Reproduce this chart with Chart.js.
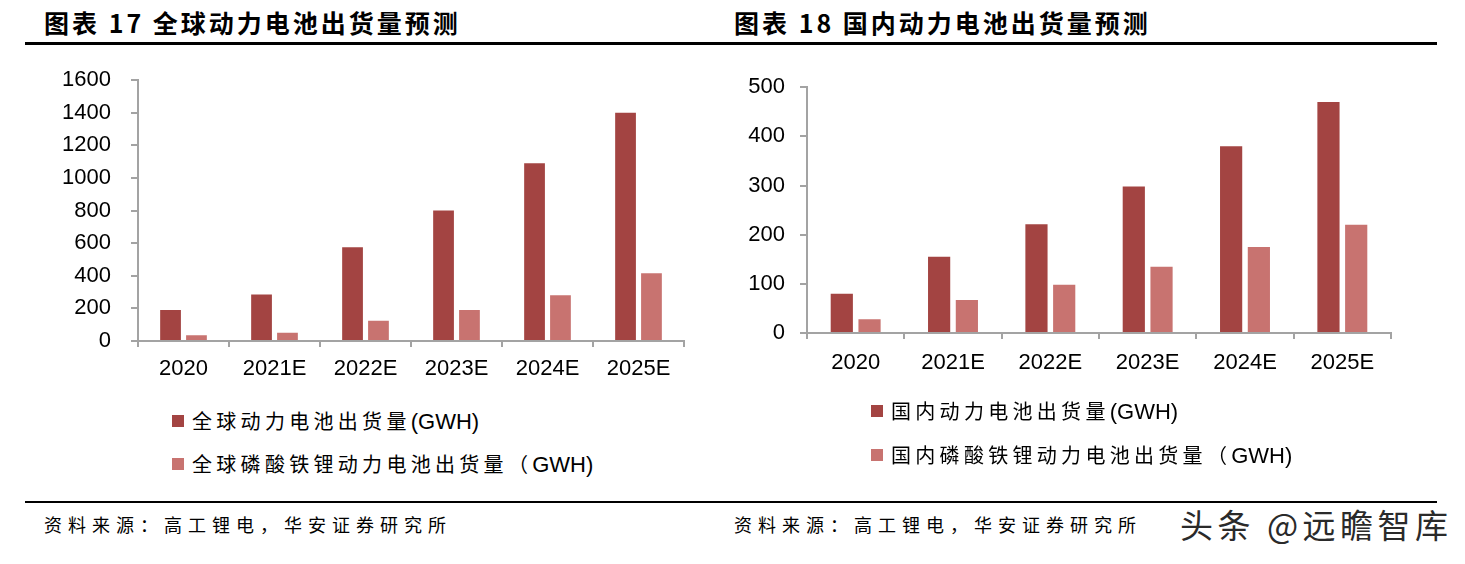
<!DOCTYPE html>
<html>
<head>
<meta charset="utf-8">
<script src="https://cdn.jsdelivr.net/npm/chart.js@4.4.1/dist/chart.umd.min.js"></script>
<style>
  html, body { margin:0; padding:0; background:#fff; }
  body { width:1465px; height:564px; position:relative; overflow:hidden; font-family:"Liberation Sans", Arial, "Noto Sans CJK SC", sans-serif; }
  .title { position:absolute; font-family:"Noto Sans CJK SC", sans-serif; font-weight:700; font-size:25px; letter-spacing:3px; color:#000; white-space:pre; line-height:30px; }
  .rule { position:absolute; background:#000; }
  .src { position:absolute; font-family:"Noto Sans CJK SC", sans-serif; font-size:18px; letter-spacing:6px; color:#000; white-space:pre; line-height:24px; }
  .box { position:absolute; }
  .legend { position:absolute; }
  .legend .item { position:absolute; left:0; white-space:pre; font-size:20px; line-height:24px; color:#000; }
  .legend .sw { position:absolute; left:0; top:6px; width:12px; height:12px; }
  .legend .txt { position:absolute; left:20px; top:0; font-family:"Noto Sans CJK SC", sans-serif; letter-spacing:4.3px; }
  .legend .txt .lat { font-family:"Liberation Sans", Arial, sans-serif; letter-spacing:0; font-size:22px; }
  .wm { position:absolute; left:1180px; top:503px; font-family:"Noto Sans CJK SC", sans-serif; font-size:33px; color:#2a2a2a; white-space:pre; line-height:42px; letter-spacing:4.5px; }
</style>
</head>
<body>
<div class="title" style="left:44px;top:7px;">图表 17 全球动力电池出货量预测</div>
<div class="title" style="left:734px;top:7px;">图表 18 国内动力电池出货量预测</div>
<div class="rule" style="left:25px;top:42px;width:1412px;height:3px;"></div>

<div class="box" style="left:0px;top:47px;width:720px;height:353px;"><canvas id="c1"></canvas></div>
<div class="box" style="left:730px;top:59px;width:700px;height:341px;"><canvas id="c2"></canvas></div>

<div class="legend" id="lg1" style="left:172px;top:409px;"></div>
<div class="legend" id="lg2" style="left:871px;top:399px;"></div>

<div class="rule" style="left:25px;top:501px;width:1412px;height:2px;"></div>
<div class="src" style="left:44px;top:512px;">资料来源：高工锂电，华安证券研究所</div>
<div class="src" style="left:734px;top:512px;">资料来源：高工锂电，华安证券研究所</div>
<div class="wm">头条 @远瞻智库</div>

<script>
// ---- data ----
const categories = ['2020', '2021E', '2022E', '2023E', '2024E', '2025E'];

const globalTotal = [190, 285, 575, 800, 1090, 1400];
const globalLfp   = [35, 50, 125, 190, 280, 415];
const globalNames = ['全球动力电池出货量(GWH)', '全球磷酸铁锂动力电池出货量（GWH)'];
const globalTicks = [0, 200, 400, 600, 800, 1000, 1200, 1400, 1600];

const domesticTotal = [80, 155, 221, 298, 380, 470];
const domesticLfp   = [28, 67, 98, 135, 175, 220];
const domesticNames = ['国内动力电池出货量(GWH)', '国内磷酸铁锂动力电池出货量（GWH)'];
const domesticTicks = [0, 100, 200, 300, 400, 500];

const darkRed = '#A34442';
const lightRed = '#C87370';
const axisGray = '#A3A3A3';

function makeChart(id, a, b, names, ticks, geo) {
  const ctx = document.getElementById(id);
  return new Chart(ctx, {
    type: 'bar',
    data: {
      labels: categories,
      datasets: [
        { label: names[0], data: a, backgroundColor: darkRed, barPercentage: 0.8, categoryPercentage: 0.57 },
        { label: names[1], data: b, backgroundColor: lightRed, barPercentage: 0.8, categoryPercentage: 0.57 }
      ]
    },
    options: {
      responsive: true,
      maintainAspectRatio: false,
      animation: false,
      devicePixelRatio: 1,
      layout: { padding: geo.padding },
      plugins: { legend: { display: false }, tooltip: { enabled: false }, title: { display: false } },
      scales: {
        x: {
          grid: { display: true, drawOnChartArea: false, drawTicks: true, tickLength: 6, color: axisGray, lineWidth: 2, offset: true },
          border: { display: true, color: axisGray, width: 2 },
          ticks: { color: '#000', font: { family: 'Liberation Sans', size: 22 }, padding: geo.xPad, maxRotation: 0 },
          afterFit: (s) => { s.height = geo.xHeight; }
        },
        y: {
          min: ticks[0], max: ticks[ticks.length - 1],
          afterBuildTicks: (s) => { s.ticks = ticks.map(v => ({ value: v })); },
          grid: { display: true, drawOnChartArea: false, drawTicks: true, tickLength: 7, color: axisGray, lineWidth: 2 },
          border: { display: true, color: axisGray, width: 2 },
          ticks: { color: '#000', font: { family: 'Liberation Sans', size: 22 }, padding: geo.yPad,
                   callback: (v) => String(v) },
          afterFit: (s) => { s.width = geo.yWidth; }
        }
      }
    }
  });
}

makeChart('c1', globalTotal, globalLfp, globalNames, globalTicks,
  { padding: { left: 0, right: 36, top: 0, bottom: 0 }, yWidth: 138, xHeight: 59, yPad: 20, xPad: 9 });
makeChart('c2', domesticTotal, domesticLfp, domesticNames, domesticTicks,
  { padding: { left: 0, right: 39, top: 0, bottom: 0 }, yWidth: 77, xHeight: 67, yPad: 15, xPad: 11 });

function buildLegend(elId, names, gap) {
  const el = document.getElementById(elId);
  const colors = [darkRed, lightRed];
  names.forEach((n, i) => {
    const item = document.createElement('div');
    item.className = 'item';
    item.style.top = (i * gap) + 'px';
    const sw = document.createElement('div');
    sw.className = 'sw';
    sw.style.background = colors[i];
    const txt = document.createElement('div');
    txt.className = 'txt';
    const m = n.match(/^(.*?)([（(])(GWH\))$/);
    const cjk = document.createElement('span');
    cjk.textContent = m[1] + (m[2] === '（' ? '（' : '');
    const lat = document.createElement('span');
    lat.className = 'lat';
    lat.textContent = (m[2] === '(' ? '(' : '') + m[3];
    txt.appendChild(cjk); txt.appendChild(lat);
    item.appendChild(sw); item.appendChild(txt);
    el.appendChild(item);
  });
}
buildLegend('lg1', globalNames, 43);
buildLegend('lg2', domesticNames, 44);
</script>
</body>
</html>
